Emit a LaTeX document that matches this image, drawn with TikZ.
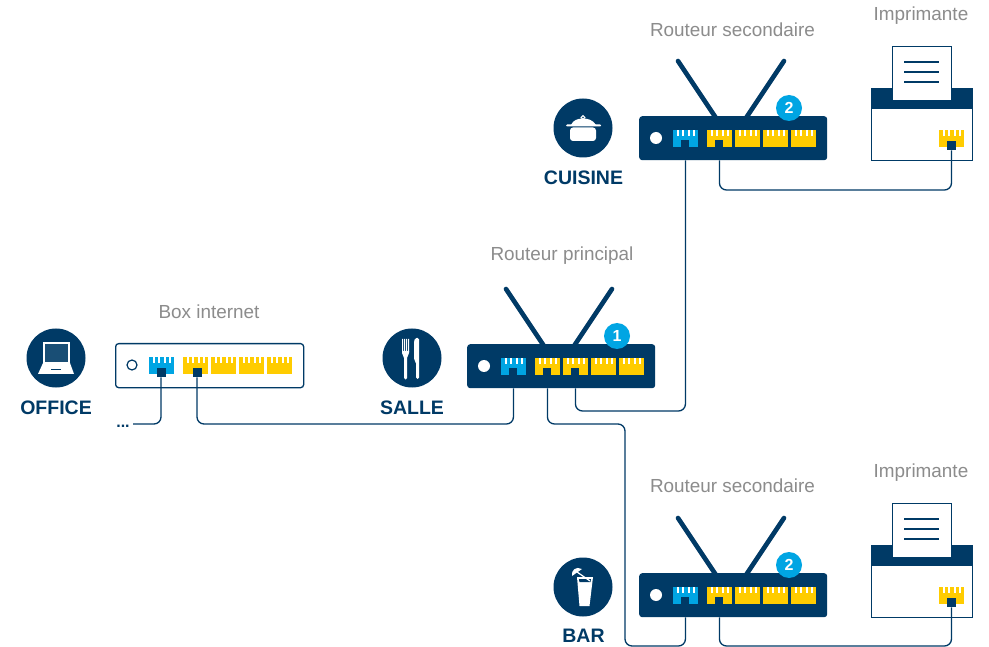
\documentclass[tikz,border=0pt]{standalone}
\usepackage{fontspec}
\setmainfont{Liberation Sans}
\usetikzlibrary{calc}
\definecolor{navy}{HTML}{003A66}
\definecolor{sky}{HTML}{00A5E3}
\definecolor{amber}{HTML}{FFCC00}
\definecolor{greytext}{HTML}{8C8C8C}
\tikzset{
  devlabel/.style={text=greytext,font=\fontsize{18.9}{20}\selectfont,inner sep=0pt},
  roomlabel/.style={text=navy,font=\fontsize{19.5}{20}\selectfont\bfseries,inner sep=0pt},
  cable/.style={draw=navy,line width=1.3pt,rounded corners=7pt},
  portbox/.style={rectangle,anchor=north west,minimum width=24.5pt,minimum height=17pt,inner sep=0pt,draw=none},
  notch/.style={rectangle,fill=navy,draw=none,anchor=south,minimum width=8.5pt,minimum height=7pt,inner sep=0pt},
  plugbox/.style={rectangle,fill=navy,draw=none,anchor=north,minimum width=9pt,minimum height=9pt,inner sep=0pt},
  darkbody/.style={rectangle,anchor=north west,fill=navy,draw=none,rounded corners=3pt,minimum width=188pt,minimum height=44pt,inner sep=0pt},
  roomdisc/.style={circle,fill=navy,draw=none,minimum size=59pt,inner sep=0pt},
  badge/.style={circle,fill=sky,draw=none,minimum size=26pt,inner sep=0pt,text=white,font=\fontsize{16}{16}\selectfont\bfseries},
  antenna/.style={draw=navy,line width=4.6pt,line cap=round},
  inkwhite/.style={fill=white,draw=none}
}
% port: name, x, y, colour
\newcommand{\portat}[4]{%
  \node[portbox,fill=#4] (#1) at (#2,#3) {};
  \foreach \tooth in {4,9.3,14.6,19.9}{\fill[white] (#2+\tooth,#3) rectangle (#2+\tooth+2,#3+6);}
}
% five ports relative to a body's left/top
\newcommand{\portrow}[3]{%
  \portat{#1-p0}{#2+34}{#3+14}{sky}
  \portat{#1-p1}{#2+68}{#3+14}{amber}
  \portat{#1-p2}{#2+96}{#3+14}{amber}
  \portat{#1-p3}{#2+124}{#3+14}{amber}
  \portat{#1-p4}{#2+152}{#3+14}{amber}
}
% router: name, x, y, badge text
\newcommand{\routerat}[4]{%
  \coordinate (#1-al) at (#2+39,#3-55);
  \coordinate (#1-ar) at (#2+145,#3-55);
  \coordinate (#1-bl) at (#2+77,#3+2);
  \coordinate (#1-br) at (#2+107,#3+2);
  \draw[antenna] (#1-al) -- (#1-bl);
  \draw[antenna] (#1-ar) -- (#1-br);
  \node[darkbody] (#1) at (#2,#3) {};
  \fill[white] (#2+17,#3+22) circle (6);
  \portrow{#1}{#2}{#3}
  \node[badge] (#1-badge) at (#2+150,#3-8) {#4};
}
% printer: name, x, y of body top-left
\newcommand{\printerat}[3]{%
  \node[rectangle,anchor=north west,fill=white,draw=navy,line width=1.3pt,minimum width=101pt,minimum height=72pt,inner sep=0pt] (#1) at (#2,#3) {};
  \fill[navy] (#2,#3) rectangle (#2+101,#3+21);
  \node[rectangle,anchor=north west,fill=white,draw=navy,line width=1.3pt,minimum width=59pt,minimum height=54pt,inner sep=0pt] (#1-paper) at (#2+21,#3-42) {};
  \foreach \ly in {-26,-16,-6}{\draw[navy,line width=1.1pt] (#2+33,#3+\ly) -- (#2+68,#3+\ly);}
  \portat{#1-port}{#2+68}{#3+42}{amber}
  \node[plugbox] (#1-plug) at (#2+80.5,#3+53) {};
}
\begin{document}
\begin{tikzpicture}[x=1pt,y=-1pt]
\useasboundingbox (0,0) rectangle (989,647);
\fill[white] (0,0) rectangle (989,647);

% room discs
\node[roomdisc] (office) at (56,358) {};
\node[roomdisc] (salle) at (412,358) {};
\node[roomdisc] (cuisine) at (583,128) {};
\node[roomdisc] (bar) at (583,587) {};

% laptop
\fill[white] (43,342) rectangle (70,363);
\fill[navy!90!white] (45,344) rectangle (68,362);
\fill[white] (43,363) -- (70,363) -- (74,374) -- (38,374) -- cycle;
\draw[navy,line width=1.2pt] (51,369.5) -- (61,369.5);

% fork and knife
\fill[white] (402,339) rectangle (403,352) (404,339) rectangle (405,352) (406,339) rectangle (407,352) (408,339) rectangle (409,352);
\fill[white] (402,351) -- (409,351) -- (409,353) -- (407,358) -- (407,378) arc[start angle=0,end angle=180,radius=1.5] -- (404,358) -- (402,353) -- cycle;
\fill[white,rounded corners=1.5pt] (415,338) -- (419,338) -- (419,379) -- (416,379) -- (416,362) -- (414,360) -- (414,342) -- cycle;

% pot
\draw[white,line width=1.1pt] (583,117.5) circle (1.8);
\fill[white] (571,125) .. controls (573,120) and (578,118.5) .. (583,118.5) .. controls (588,118.5) and (593,120) .. (596,125) -- cycle;
\fill[white,rounded corners=1pt] (566,124.5) rectangle (601,126.5);
\fill[white,rounded corners=3pt] (570,127.5) -- (596,127.5) -- (596,141) -- (570,141) -- cycle;

% glass and parasol
\fill[white] (577,577) -- (593,577) -- (589.5,606) -- (579.5,606) -- cycle;
\fill[navy] (579,579) -- (591,579) -- (590.6,582) -- (579.4,582) -- cycle;
\fill[white] (572,576) .. controls (571,570) and (576,566) .. (582,569) -- cycle;
\draw[white,line width=1.2pt] (577,572) -- (590,581);

% routers
\routerat{rcuisine}{639}{116}{2}
\routerat{rsalle}{467}{344}{1}
\routerat{rbar}{639}{573}{2}

% box internet
\node[rectangle,anchor=north west,fill=white,draw=navy,line width=1.3pt,rounded corners=3pt,minimum width=188pt,minimum height=44pt,inner sep=0pt] (box) at (115,343) {};
\node[circle,draw=navy,line width=1.2pt,fill=white,minimum size=10pt,inner sep=0pt] (boxled) at (132,365) {};
\portrow{box}{115}{343}
\node[plugbox] (box-plug0) at (161,368) {};
\node[plugbox] (box-plug1) at (197,368) {};

% router notches
\foreach \rname/\rx/\ry in {rcuisine/685/147,rbar/685/604,rsalle/513/375}{\node[notch] (\rname-n0) at (\rx,\ry) {};}
\node[notch] (rcuisine-n1) at (719,147) {};
\node[notch] (rbar-n1) at (719,604) {};
\node[notch] (rsalle-n1) at (547,375) {};
\node[notch] (rsalle-n2) at (575,375) {};

% printers
\printerat{pcuisine}{871}{88}
\printerat{pbar}{871}{545}

% lanes and free end
\coordinate (laneA) at (0,424);
\coordinate (laneB) at (0,411);
\coordinate (laneC) at (0,190);
\coordinate (laneD) at (0,646);
\coordinate (riser) at (625,0);
\node[text=navy,font=\fontsize{16}{16}\selectfont\bfseries,inner sep=0pt,anchor=base] (more) at (123,427) {...};
\coordinate (moreend) at (133,424);

% connectors
\draw[cable] (box-plug0.south) |- (moreend);
\draw[cable] (box-plug1.south) -- (box-plug1.south |- laneA) -| (rsalle-p0 |- rsalle.south);
\draw[cable] (rsalle-p1 |- rsalle.south) -- (rsalle-p1 |- laneA) -- (riser |- laneA) -- (riser |- laneD) -| (rbar-p0 |- rbar.south);
\draw[cable] (rsalle-p2 |- rsalle.south) -- (rsalle-p2 |- laneB) -| (rcuisine-p0 |- rcuisine.south);
\draw[cable] (rcuisine-p1 |- rcuisine.south) -- (rcuisine-p1 |- laneC) -| (pcuisine-plug.south);
\draw[cable] (rbar-p1 |- rbar.south) -- (rbar-p1 |- laneD) -| (pbar-plug.south);

% labels
\node[devlabel] (l1) at (732.5,30) {Routeur secondaire};
\node[devlabel] (l2) at (921,16) {Imprimante};
\node[devlabel] (l3) at (562,255.5) {Routeur principal};
\node[devlabel] (l4) at (209,312) {Box internet};
\node[devlabel] (l5) at (732.5,486) {Routeur secondaire};
\node[devlabel] (l6) at (921,473) {Imprimante};
\node[roomlabel] (r1) at (56,407.5) {OFFICE};
\node[roomlabel] (r2) at (412,407.5) {SALLE};
\node[roomlabel] (r3) at (583.5,177.5) {CUISINE};
\node[roomlabel] (r4) at (583.5,635.5) {BAR};
\end{tikzpicture}
\end{document}
